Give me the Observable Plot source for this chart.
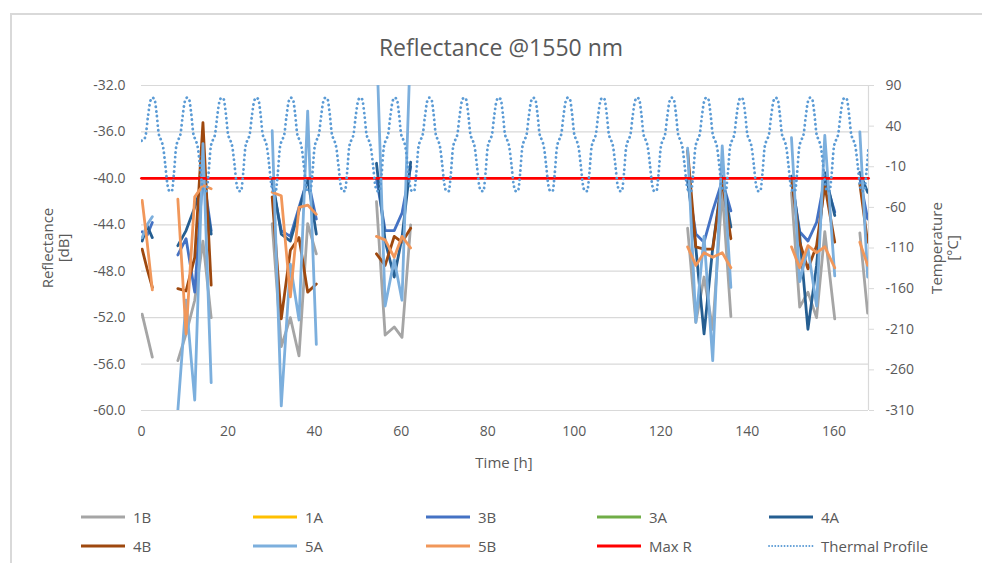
<!DOCTYPE html>
<html><head><meta charset="utf-8">
<script src="https://cdn.jsdelivr.net/npm/d3@7"></script>
<script src="https://cdn.jsdelivr.net/npm/@observablehq/plot@0.6"></script>
<style>
html,body{margin:0;padding:0;background:#fff;}
#wrap{position:relative;width:982px;height:563px;overflow:hidden;font-family:"Open Sans",sans-serif;color:#595959;}
#frame{position:absolute;left:10px;top:13px;width:1000px;height:600px;border-left:2px solid #d9d9d9;border-top:2px solid #d9d9d9;}
#title{position:absolute;left:0;width:1002px;top:32px;line-height:30px;text-align:center;font-size:23px;color:#595959;}
#chart{position:absolute;left:0;top:0;}
.leg{position:absolute;height:20px;display:flex;align-items:center;font-size:15px;color:#595959;white-space:nowrap;}
.leg svg{margin-right:7px;}
</style></head>
<body><div id="wrap"><div id="frame"></div><div id="chart"></div><div id="title">Reflectance @1550 nm</div><div id="legend"></div></div>
<script>
// ---- data ----
const seriesNames = ["1B","1A","3B","3A","4A","4B","5A","5B"];
const seriesColors = ["#A5A5A5","#FFC000","#4472C4","#70AD47","#255E91","#9E480E","#7CAFDD","#F1975A"];
const xTicks = [0,20,40,60,80,100,120,140,160];
const yTicks = [-60,-56,-52,-48,-44,-40,-36,-32];
const tempTicks = [90,40,-10,-60,-110,-160,-210,-260,-310];

// measurement times [h]; null separates measurement windows
const hours = [0.15,1.3,2.5, null, 8.4,10.3,12.3,14.2,16.1, null, 30.2,32.3,34.4,36.4,38.4,40.4, null,
  54.3,56.3,58.4,60.2,62.2, null, 126.2,128.1,130.0,132.0,134.2,136.2, null,
  150.2,152.1,154.0,156.0,157.9,160.2, null, 166.0,167.8];

// reflectance [dB]
const r1B = [-51.7,-53.5,-55.4, null, -55.7,-53.4,-50.5,-45.4,-52.0, null, -43.9,-54.5,-52.0,-55.3,-43.9,-46.5, null,
  -42.0,-53.5,-52.8,-53.7,-44.0, null, -44.3,-52.4,-48.5,-53.0,-41.0,-51.9, null,
  -41.2,-51.1,-49.8,-52.0,-44.6,-52.1, null, -44.7,-51.6];
const r1A = [];
const r3B = [-44.6,-44.9,-43.8, null, -46.6,-45.2,-49.8,-39.5,-44.5, null, -40.5,-44.5,-45.0,-42.5,-40.0,-43.5, null,
  -40.0,-44.5,-44.5,-43.0,-39.0, null, -40.2,-44.8,-45.5,-42.8,-40.2,-42.8, null,
  -40.0,-44.6,-45.4,-43.8,-40.0,-42.9, null, -40.0,-43.5];
const r3A = [];
const r4A = [-45.4,-44.1,-45.1, null, -45.8,-44.5,-42.5,-40.2,-44.8, null, -40.0,-44.8,-45.4,-42.8,-40.0,-44.8, null,
  -38.7,-45.4,-48.5,-45.1,-38.6, null, -40.0,-46.0,-53.4,-46.0,-39.8,-44.2, null,
  -39.8,-44.9,-53.0,-47.5,-39.5,-43.2, null, -39.5,-41.2];
const r4B = [-46.1,-47.8,-49.4, null, -49.5,-49.7,-46.8,-35.2,-49.2, null, -41.6,-52.1,-46.2,-45.1,-49.8,-49.1, null,
  -46.5,-47.5,-45.0,-45.5,-44.3, null, -37.6,-45.9,-46.1,-46.1,-40.2,-45.2, null,
  -40.0,-45.5,-47.8,-45.8,-40.6,-45.5, null, -40.5,-45.5];
const r5A = [-45.1,-44.0,-43.3, null, -60.0,-50.5,-59.1,-37.0,-57.6, null, -35.9,-59.6,-47.4,-52.2,-34.2,-54.3, null,
  -28.0,-51.0,-47.0,-50.5,-28.0, null, -37.4,-52.4,-45.0,-55.7,-37.2,-49.4, null,
  -36.5,-48.9,-46.0,-51.0,-36.3,-48.4, null, -36.0,-48.5];
const r5B = [-41.9,-45.5,-49.6, null, -41.8,-53.4,-41.6,-40.6,-40.9, null, -41.2,-41.5,-50.2,-42.5,-42.3,-43.1, null,
  -45.0,-45.3,-46.8,-45.0,-46.0, null, -45.9,-47.5,-46.4,-46.8,-46.4,-47.7, null,
  -45.9,-47.7,-45.8,-46.4,-45.9,-47.7, null, -45.5,-47.5];
const seriesValues = [r1B,r1A,r3B,r3A,r4A,r4B,r5A,r5B];

// Max R limit
const maxRHours = [0,168];
const maxRValues = [-40,-40];

// thermal profile [°C], sampled every 0.5 h from 0 to 168 h
const thermalStep = 0.5;
const thermal = [
  22,23,30,52,70,75,73,55,30,23,14,-8,-32,-40,-40,-18,
  14,23,30,52,70,75,73,55,30,23,14,-8,-32,-40,-40,-18,
  14,23,30,52,70,75,73,55,30,23,14,-8,-32,-40,-40,-18,
  14,23,30,52,70,75,73,55,30,23,14,-8,-32,-40,-40,-18,
  14,23,30,52,70,75,73,55,30,23,14,-8,-32,-40,-40,-18,
  14,23,30,52,70,75,73,55,30,23,14,-8,-32,-40,-40,-18,
  14,23,30,52,70,75,73,55,30,23,14,-8,-32,-40,-40,-18,
  14,23,30,52,70,75,73,55,30,23,14,-8,-32,-40,-40,-18,
  14,23,30,52,70,75,73,55,30,23,14,-8,-32,-40,-40,-18,
  14,23,30,52,70,75,73,55,30,23,14,-8,-32,-40,-40,-18,
  14,23,30,52,70,75,73,55,30,23,14,-8,-32,-40,-40,-18,
  14,23,30,52,70,75,73,55,30,23,14,-8,-32,-40,-40,-18,
  14,23,30,52,70,75,73,55,30,23,14,-8,-32,-40,-40,-18,
  14,23,30,52,70,75,73,55,30,23,14,-8,-32,-40,-40,-18,
  14,23,30,52,70,75,73,55,30,23,14,-8,-32,-40,-40,-18,
  14,23,30,52,70,75,73,55,30,23,14,-8,-32,-40,-40,-18,
  14,23,30,52,70,75,73,55,30,23,14,-8,-32,-40,-40,-18,
  14,23,30,52,70,75,73,55,30,23,14,-8,-32,-40,-40,-18,
  14,23,30,52,70,75,73,55,30,23,14,-8,-32,-40,-40,-18,
  14,23,30,52,70,75,73,55,30,23,14,-8,-32,-40,-40,-18,
  14,23,30,52,70,75,73,55,30,23,14,-8,-32,-40,-40,-18,
  14
];

// ---- secondary axis mapping (°C -> dB position) ----
const tMax = 90, tMin = -310, dbMax = -32, dbMin = -60;
const toDb = T => dbMin + (T - tMin) * (dbMax - dbMin) / (tMax - tMin);
const toT = d => tMin + (d - dbMin) * (tMax - tMin) / (dbMax - dbMin);

const num = v => (v == null ? NaN : v);

const lineMarks = seriesNames.map((name, k) =>
  Plot.line(seriesValues[k].map((v, i) => ({t: num(hours[i]), v: num(v)})), {
    x: "t", y: "v", stroke: seriesColors[k], strokeWidth: 2.8, clip: true, strokeLinejoin: "round"
  })
);

const chart = Plot.plot({
  width: 982, height: 480,
  marginLeft: 141, marginRight: 114, marginTop: 85, marginBottom: 70,
  x: {domain: [0, 168]},
  y: {domain: [dbMin, dbMax]},
  style: {fontFamily: "'Open Sans', sans-serif", fontSize: "14px", color: "#595959", background: "transparent"},
  marks: [
    Plot.ruleY(yTicks, {stroke: "#d9d9d9", strokeWidth: 1.2}),
    Plot.ruleX([168], {stroke: "#d9d9d9", strokeWidth: 1.2}),
    Plot.axisY(yTicks, {tickFormat: d => d.toFixed(1), tickSize: 0, tickPadding: 16, label: null, fill: "#595959"}),
    Plot.axisY(tempTicks.map(toDb), {anchor: "right", tickSize: 5, tickPadding: 12, stroke: "#d9d9d9", fill: "#595959",
      tickFormat: d => String(Math.round(toT(d))), label: null}),
    Plot.axisX(xTicks, {tickSize: 0, tickPadding: 16, label: null, fill: "#595959", tickFormat: d => String(d)}),
    ...lineMarks,
    Plot.line(maxRHours.map((t, i) => ({t, v: maxRValues[i]})), {x: "t", y: "v", stroke: "#FF0000", strokeWidth: 2.8}),
    Plot.line(thermal.map((T, i) => ({t: i * thermalStep, v: toDb(T)})), {
      x: "t", y: "v", stroke: "#5B9BD5", strokeWidth: 2.8, strokeDasharray: "0.1 4.6", strokeLinecap: "round",
      curve: "monotone-x", clip: true
    })
  ]
});
document.getElementById("chart").appendChild(chart);

// axis titles
const svg = d3.select(chart);
const addText = (x, y, txt, rot, size) => {
  const t = svg.append("text").attr("text-anchor", "middle").attr("fill", "#595959")
    .style("font-size", size + "px").style("font-family", "'Open Sans', sans-serif").text(txt);
  if (rot) t.attr("transform", `translate(${x},${y}) rotate(-90)`); else t.attr("x", x).attr("y", y);
};
addText(53, 248, "Reflectance", true, 15);
addText(69, 248, "[dB]", true, 15);
addText(942, 248, "Temperature", true, 15);
addText(958, 248, "[°C]", true, 15);
addText(504, 468, "Time [h]", false, 15);

// legend
const legendItems = seriesNames.map((n, k) => ({name: n, color: seriesColors[k], dash: null, w: 3}))
  .concat([{name: "Max R", color: "#FF0000", dash: null, w: 3},
           {name: "Thermal Profile", color: "#5B9BD5", dash: "0.1 3", w: 1.8}]);
const colX = [80, 252, 425, 596, 768];
const rowY = [517, 546];
const leg = document.getElementById("legend");
legendItems.forEach((it, i) => {
  const div = document.createElement("div");
  div.className = "leg";
  div.style.left = colX[i % 5] + "px";
  div.style.top = (rowY[Math.floor(i / 5)] - 10) + "px";
  const dash = it.dash ? `stroke-dasharray="${it.dash}" stroke-linecap="round"` : "";
  div.innerHTML = `<svg width="46" height="8"><line x1="1" y1="4" x2="45" y2="4" stroke="${it.color}" stroke-width="${it.w}" ${dash}/></svg><span>${it.name}</span>`;
  leg.appendChild(div);
});
</script>
</body></html>
